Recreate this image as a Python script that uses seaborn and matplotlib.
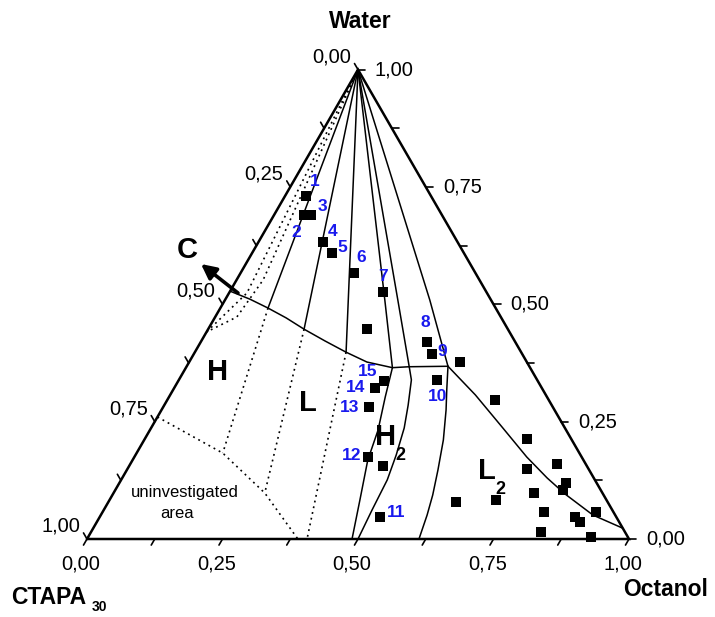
import numpy as np
import pandas as pd
import matplotlib
matplotlib.use("Agg")
import matplotlib.pyplot as plt
import seaborn as sns

sns.set_theme(style="white")
plt.rcParams["font.family"] = ["Liberation Sans", "DejaVu Sans"]
plt.rcParams["text.color"] = "black"

# ---- sample compositions (mass fractions of octanol and water) ----
sample_ids = ["1", "2", "3", "4", "5", "6", "7", "8", "9", "10",
              "11", "12", "13", "14", "15"]
sample_octanol = [0.039, 0.055, 0.068, 0.119, 0.147, 0.210, 0.283, 0.417,
                  0.440, 0.477, 0.518, 0.431, 0.379, 0.370, 0.380]
sample_water = [0.731, 0.690, 0.690, 0.633, 0.609, 0.567, 0.526, 0.420,
                0.394, 0.339, 0.047, 0.175, 0.281, 0.322, 0.337]

other_octanol = [0.294, 0.499, 0.468, 0.642, 0.713, 0.605, 0.705, 0.737,
                 0.787, 0.824, 0.826, 0.776, 0.814, 0.876, 0.892, 0.910,
                 0.831, 0.928]
other_water = [0.447, 0.377, 0.156, 0.079, 0.083, 0.296, 0.213, 0.149,
               0.160, 0.119, 0.104, 0.098, 0.058, 0.047, 0.036, 0.058,
               0.015, 0.004]

# ---- phase boundaries: (octanol, water) along each curve ----
tie_solid = [
    ([0.0, 0.088], [1.0, 0.492]),
    ([0.0, 0.177], [1.0, 0.447]),
    ([0.0, 0.279], [1.0, 0.398]),
    ([0.0, 0.295, 0.381], [1.0, 0.509, 0.365]),
    ([0.0, 0.319, 0.411], [1.0, 0.509, 0.367]),
    ([0.0, 0.378, 0.482], [1.0, 0.509, 0.368]),
]
hex_boundary_oct = [0.000, 0.045, 0.088, 0.132, 0.177, 0.228, 0.279, 0.328, 0.381]
hex_boundary_wat = [0.528, 0.511, 0.492, 0.471, 0.447, 0.422, 0.398, 0.377, 0.365]
three_phase_oct = [0.381, 0.411, 0.482]
three_phase_wat = [0.365, 0.367, 0.368]
h2_left_oct = [0.381, 0.399, 0.421, 0.434, 0.462, 0.489]
h2_left_wat = [0.365, 0.3025, 0.232, 0.168, 0.083, 0.0]
h2_right_oct = [0.411, 0.429, 0.450, 0.467, 0.481, 0.491, 0.495, 0.500]
h2_right_wat = [0.367, 0.339, 0.285, 0.2365, 0.179, 0.126, 0.062, 0.0]
l2_left_oct = [0.482, 0.505, 0.525, 0.552, 0.574, 0.591, 0.602, 0.6125]
l2_left_wat = [0.368, 0.3175, 0.275, 0.211, 0.147, 0.0937, 0.051, 0.0]
l2_upper_oct = [0.482, 0.563, 0.649, 0.724, 0.784, 0.834, 0.908, 0.977]
l2_upper_wat = [0.368, 0.307, 0.2365, 0.1747, 0.130, 0.0959, 0.051, 0.023]

tie_dotted = [
    ([0.0, 0.033, 0.0], [1.0, 0.524, 0.441]),
    ([0.0, 0.049, 0.040, 0.0], [1.0, 0.552, 0.473, 0.441]),
    ([0.088, 0.159], [0.492, 0.183]),
    ([0.177, 0.279], [0.447, 0.098]),
    ([0.279, 0.406], [0.398, 0.0]),
]
uninvestigated_oct = [0.0, 0.159, 0.279, 0.389]
uninvestigated_wat = [0.260, 0.183, 0.098, 0.0]

ticks = np.arange(0, 1.0001, 0.125)
major_ticks = [0.0, 0.25, 0.5, 0.75, 1.0]

H = np.sqrt(3) / 2
PX = 1 / 542.0  # triangle side is 542 px


def to_xy(octanol, water):
    o = np.asarray(octanol, float)
    w = np.asarray(water, float)
    return o + w / 2, w * H


def fmt(v):
    return f"{v:.2f}".replace(".", ",")


fig = plt.figure(figsize=(7.15, 6.17), dpi=100)
ax = fig.add_axes([0, 0, 1, 1])
ax.set_xlim(-87 * PX, 628 * PX)
ax.set_ylim(-78 * PX, 539 * PX)
ax.axis("off")

# triangle frame
cx, cy = to_xy([0, 1, 0, 0], [0, 0, 1, 0])
ax.plot(cx, cy, color="black", lw=1.8, solid_joinstyle="miter", zorder=3)

line_kw = dict(color="black", lw=1.1, zorder=2)
dot_kw = dict(color="black", lw=1.2, linestyle=(0, (1.1, 2.4)), zorder=2)

for o, w in tie_solid:
    ax.plot(*to_xy(o, w), **line_kw)
for o, w in [(hex_boundary_oct, hex_boundary_wat),
             (three_phase_oct, three_phase_wat),
             (h2_left_oct, h2_left_wat),
             (h2_right_oct, h2_right_wat),
             (l2_left_oct, l2_left_wat),
             (l2_upper_oct, l2_upper_wat)]:
    ax.plot(*to_xy(o, w), **line_kw)
for o, w in tie_dotted:
    ax.plot(*to_xy(o, w), **dot_kw)
ax.plot(*to_xy(uninvestigated_oct, uninvestigated_wat), **dot_kw)

# ---- axis ticks and labels ----
tl = 7 * PX
tick_kw = dict(color="black", lw=1.2, zorder=3)
lab_kw = dict(fontsize=14.5, textcoords="offset pixels", color="black")
for v in ticks:
    # bottom axis: octanol
    bx, by = to_xy(v, 0)
    ax.plot([bx, bx - 0.5 * tl], [by, by - H * tl], **tick_kw)
    # left axis: CTAPA (water = 1 - v)
    lx, ly = to_xy(0, 1 - v)
    ax.plot([lx, lx - 0.5 * tl], [ly, ly + H * tl], **tick_kw)
    # right axis: water
    rx, ry = to_xy(1 - v, v)
    ax.plot([rx, rx + tl], [ry, ry], **tick_kw)
    if any(abs(v - m) < 1e-9 for m in major_ticks):
        ax.annotate(fmt(v), (bx, by), xytext=(-6, -25), ha="center", va="center", **lab_kw)
        ax.annotate(fmt(v), (lx, ly), xytext=(-7, 13), ha="right", va="center", **lab_kw)
        ax.annotate(fmt(v), (rx, ry), xytext=(17, 0), ha="left", va="center", **lab_kw)

# ---- measured samples ----
pts = pd.DataFrame({
    "octanol": sample_octanol + other_octanol,
    "water": sample_water + other_water,
})
pts["x"], pts["y"] = to_xy(pts["octanol"], pts["water"])
sns.scatterplot(data=pts, x="x", y="y", marker="s", s=58, color="black",
                linewidth=0, ax=ax, zorder=4, legend=False)

label_offsets = {
    "1": (9, 14), "2": (-8, -17), "3": (12, 9), "4": (10, 10), "5": (11, 6),
    "6": (7, 15), "7": (0, 16), "8": (-2, 19), "9": (10, 3), "10": (0, -17),
    "11": (16, 4), "12": (-16, 1), "13": (-19, 0), "14": (-19, 0), "15": (-17, 9),
}
for sid, o, w in zip(sample_ids, sample_octanol, sample_water):
    x, y = to_xy(o, w)
    ax.annotate(sid, (x, y), xytext=label_offsets[sid], textcoords="offset pixels",
                ha="center", va="center", fontsize=12.5, fontweight="bold",
                color="#1a1aee", zorder=5)


def px(xp, yp):
    return (xp - 87) * PX, (539 - yp) * PX


# phase labels
big = dict(fontsize=21, fontweight="bold", ha="center", va="center")
sub = dict(fontsize=13, fontweight="bold", ha="left", va="center")
ax.text(*px(218, 372), "H", **big)
ax.text(*px(308, 403), "L", **big)
ax.text(*px(386, 437), "H", **big)
ax.text(*px(395, 455), "2", **sub)
ax.text(*px(487, 471), "L", **big)
ax.text(*px(495, 490), "2", **sub)
ax.text(*px(187, 250), "C", **big)
ax.text(*px(185, 492), "uninvestigated", fontsize=12, ha="center", va="center")
ax.text(*px(177, 513), "area", fontsize=12, ha="center", va="center")

ax.annotate("", xy=px(201, 264), xytext=px(238, 293),
            arrowprops=dict(arrowstyle="-|>", lw=2.6, color="black",
                            mutation_scale=22, shrinkA=0, shrinkB=0))

# component names
title = dict(fontsize=16.5, fontweight="bold")
fig.text(360 / 715, 1 - 22 / 617, "Water", ha="center", va="center", **title)
fig.text(666 / 715, 1 - 590 / 617, "Octanol", ha="center", va="center", **title)
fig.text(11 / 715, 1 - 597 / 617, "CTAPA", ha="left", va="center", **title)
fig.text(99 / 715, 1 - 607 / 617, "30", ha="center", va="center",
         fontsize=10, fontweight="bold")

fig.savefig("out.png", dpi=100)
